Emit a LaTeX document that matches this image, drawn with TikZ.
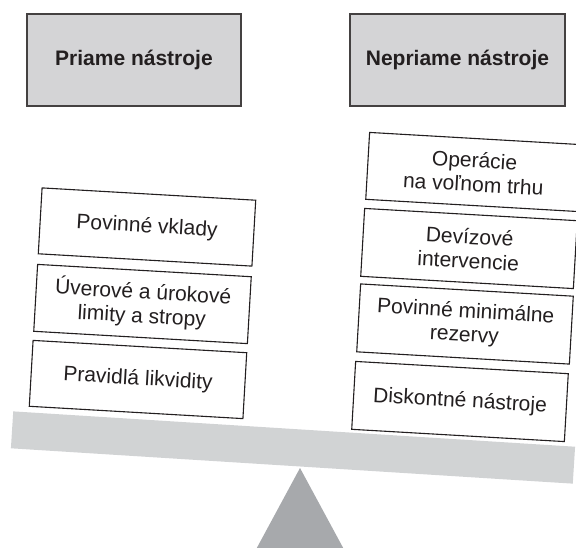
\documentclass[tikz,border=0pt]{standalone}
\usepackage{fontspec}
\setmainfont{Liberation Sans}
\definecolor{hdrfill}{HTML}{D4D4D6}
\definecolor{beamfill}{HTML}{D1D3D4}
\definecolor{trifill}{HTML}{A7A9AC}
\definecolor{ink}{HTML}{231F20}
\begin{document}
\begin{tikzpicture}[x=1pt,y=-1pt,
  header/.style={draw=ink!85, line width=1.2pt, fill=hdrfill, minimum width=214pt, minimum height=92pt,
    inner sep=0pt, font=\fontsize{21}{24}\selectfont\bfseries, text=ink},
  tool/.style={draw=ink, line width=1.1pt, fill=white, minimum width=214pt, minimum height=66pt,
    inner sep=0pt, align=center, rotate=-3.3, font=\fontsize{21}{24}\selectfont, text=ink},
]
\useasboundingbox (0,0) rectangle (576,547);
\clip (0,0) rectangle (576,547);
% fulcrum
\fill[trifill] (300,468) -- (253,555) -- (347,555) -- cycle;
% beam
\node[fill=beamfill, minimum width=563pt, minimum height=37pt, inner sep=0pt, rotate=-3.6] (beam) at (293,447.5) {};
% headers
\node[header] (hL) at (134,60) {Priame nástroje};
\node[header, minimum width=215pt] (hR) at (457.5,60) {Nepriame nástroje};
% left stack
\node[tool] (l1) at (147,227) {Povinné vklady};
\node[tool, minimum height=67pt] (l2) at (142.5,304) {Úverové a úrokové\\limity a stropy};
\node[tool] (l3) at (138,379.5) {Pravidlá likvidity};
% right stack
\node[tool, minimum width=213pt, minimum height=67pt] (r1) at (474,172) {Operácie\\na voľnom trhu};
\node[tool, minimum width=213pt, minimum height=68pt] (r2) at (469,248.5) {Devízové\\intervencie};
\node[tool, minimum width=213pt, minimum height=68pt] (r3) at (465,324) {Povinné minimálne\\rezervy};
\node[tool, minimum width=213pt, minimum height=68pt] (r4) at (460,401.5) {Diskontné nástroje};
\end{tikzpicture}
\end{document}
